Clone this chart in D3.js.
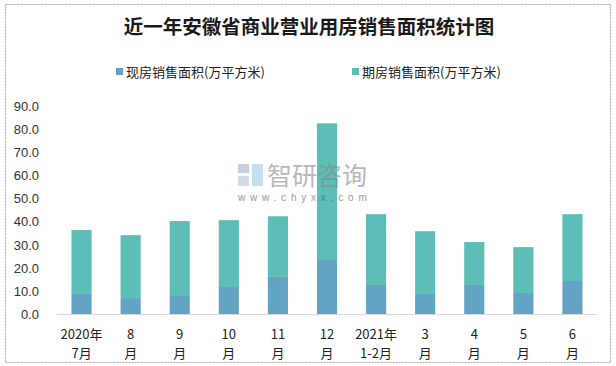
<!DOCTYPE html>
<html><head><meta charset="utf-8">
<script src="https://cdn.jsdelivr.net/npm/d3@7"></script>
<style>body{margin:0;background:#fff}svg{display:block}</style>
</head><body>
<svg id="c" width="616" height="366"></svg>
<script>
const categories = ["2020年7月","8月","9月","10月","11月","12月","2021年1-2月","3月","4月","5月","6月"];
const labelLine1 = ["2020年","8","9","10","11","12","2021年","3","4","5","6"];
const labelLine2 = ["7月","月","月","月","月","月","1-2月","月","月","月","月"];
const spotArea = [8.7, 6.9, 8.2, 11.7, 16.1, 23.4, 12.6, 8.7, 12.6, 9.1, 14.3];
const futureArea = [27.7, 27.3, 32.1, 29.0, 26.3, 59.3, 30.7, 27.2, 18.6, 19.9, 29.0];
const seriesNames = ["现房销售面积(万平方米)", "期房销售面积(万平方米)"];
const yTicks = [0,10,20,30,40,50,60,70,80,90];
const title = "近一年安徽省商业营业用房销售面积统计图";

const colors = ["#63A3C4", "#5DBDB7"];
const svg = d3.select("#c");
const font = "'Noto Sans CJK SC','Microsoft YaHei',sans-serif";

svg.append("rect").attr("x",5.5).attr("y",4.5).attr("width",605).attr("height",358)
  .attr("fill","#fff").attr("stroke","#a6a6a6").attr("stroke-dasharray","2,1");

svg.append("text").attr("x",309).attr("y",34).attr("text-anchor","middle")
  .attr("font-family",font).attr("font-weight","bold").attr("font-size",19.5)
  .attr("fill","#1a1a1a").text(title);

// legend
const legX = [116, 352];
seriesNames.forEach((n,i)=>{
  const g = svg.append("g").attr("transform",`translate(${legX[i]},72)`);
  g.append("rect").attr("x",0).attr("y",-4).attr("width",7).attr("height",7).attr("fill",colors[i]);
  g.append("text").attr("x",10).attr("y",4.5).attr("font-family",font).attr("font-size",13)
    .attr("fill","#222").text(n);
});

const x = d3.scaleBand().domain(categories).range([57,597]).paddingInner(0.59).paddingOuter(0.295);
const y = d3.scaleLinear().domain([0,90]).range([314,106.5]);

const stackData = categories.map((c,i)=>({cat:c, spot:spotArea[i], future:futureArea[i]}));
const stack = d3.stack().keys(["spot","future"])(stackData);

svg.append("g").selectAll("g").data(stack).join("g").attr("fill",(d,i)=>colors[i])
  .selectAll("rect").data(d=>d).join("rect")
  .attr("x",d=>x(d.data.cat)).attr("width",x.bandwidth())
  .attr("y",d=>y(d[1])).attr("height",d=>y(d[0])-y(d[1]));

// axis line
svg.append("line").attr("x1",57).attr("x2",597).attr("y1",314.5).attr("y2",314.5)
  .attr("stroke","#d9d9d9").attr("stroke-width",1.2);

// y axis
const yAxis = d3.axisLeft(y).tickValues(yTicks).tickFormat(d=>d.toFixed(1)).tickSize(0).tickPadding(0);
const yg = svg.append("g").attr("transform","translate(39,0)").call(yAxis);
yg.select(".domain").remove();
yg.selectAll("text").attr("font-family","Arial, 'Liberation Sans', sans-serif").attr("font-size",13).attr("fill","#333");

// x labels
const xg = svg.append("g");
categories.forEach((c,i)=>{
  const cx = x(c) + x.bandwidth()/2;
  xg.append("text").attr("x",cx).attr("y",339).attr("text-anchor","middle")
    .attr("font-family",font).attr("font-size",13).attr("fill","#222").text(labelLine1[i]);
  xg.append("text").attr("x",cx).attr("y",358).attr("text-anchor","middle")
    .attr("font-family",font).attr("font-size",13).attr("fill","#222").text(labelLine2[i]);
});

// watermark
const wm = svg.append("g").attr("opacity",0.6);
wm.append("rect").attr("x",238).attr("y",164).attr("width",11).attr("height",9).attr("fill","#9fb0d0");
wm.append("rect").attr("x",238).attr("y",176).attr("width",11).attr("height",10).attr("fill","#b7c4de");
wm.append("rect").attr("x",252).attr("y",164).attr("width",11).attr("height",22).attr("fill","#9fcbe8");
wm.append("text").attr("x",267).attr("y",185).attr("font-family",font).attr("font-size",25)
  .attr("fill","#8a8a8a").text("智研咨询");
wm.append("text").attr("x",238).attr("y",201).attr("font-family","Arial, sans-serif").attr("font-size",10)
  .attr("letter-spacing",4.8).attr("fill","#555").text("www.chyxx.com");
</script>
</body></html>
